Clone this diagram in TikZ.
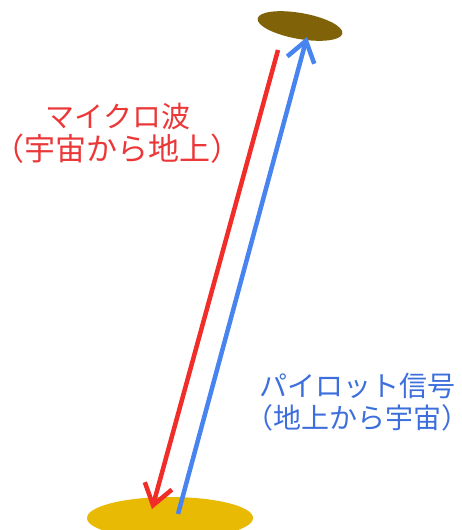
\documentclass[tikz,border=0pt]{standalone}
\usepackage{fontspec}
\newfontfamily\jp{Noto Sans CJK JP}
\usetikzlibrary{arrows.meta,shapes.geometric}
\definecolor{sat}{RGB}{128,98,8}
\definecolor{ground}{RGB}{232,186,4}
\definecolor{mwred}{RGB}{240,45,40}
\definecolor{pilotblue}{RGB}{72,132,240}
\definecolor{redtext}{RGB}{235,55,55}
\definecolor{bluetext}{RGB}{60,110,220}
\tikzset{
  beam/.style={line width=4.5pt, -{Straight Barb[length=20pt,width=28pt,line width=4.5pt]}},
  lbl/.style={align=center, inner sep=0pt}
}
\begin{document}
\begin{tikzpicture}[x=1pt,y=-1pt]
\useasboundingbox (0,0) rectangle (462,530);
\clip (0,0) rectangle (462,530);
\node[fill=sat, ellipse, draw=none, minimum width=86pt, minimum height=26pt, inner sep=0pt, rotate=-10] (sat) at (300,26) {};
\node[fill=ground, ellipse, draw=none, minimum width=166pt, minimum height=42pt, inner sep=0pt] (gnd) at (170,518) {};
\coordinate (rs) at (278,50);
\coordinate (re) at (152,509);
\coordinate (bs) at (178,514);
\coordinate (be) at (307,37);
\draw[beam, mwred] (rs) -- (re);
\draw[beam, pilotblue] (bs) -- (be);
\node[lbl, text=redtext, font=\jp\fontsize{29}{33}\selectfont] (mw) at (118,133) {マイクロ波\\\fontsize{31}{33}\selectfont（宇宙から地上）};
\node[lbl, text=bluetext, font=\jp\fontsize{28}{32}\selectfont] (pl) at (357,402) {パイロット信号\\（地上から宇宙）};
\end{tikzpicture}
\end{document}
